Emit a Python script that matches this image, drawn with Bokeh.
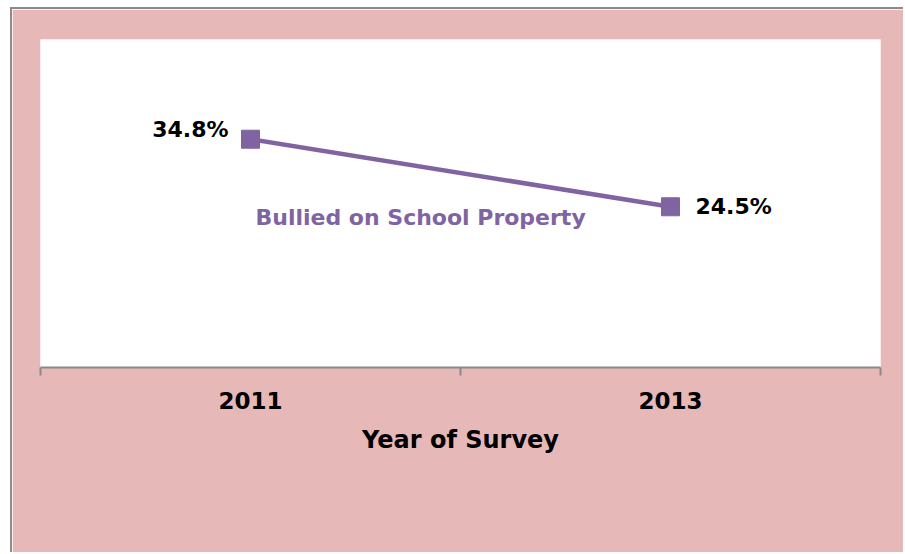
from bokeh.plotting import figure
from bokeh.models import Range1d, FixedTicker, Label
from bokeh.embed import file_html
from bokeh.resources import INLINE

years = ["2011", "2013"]
bullied = [34.8, 24.5]
series_name = "Bullied on School Property"
x_title = "Year of Survey"

PINK = "#E6B8B7"
PURPLE = "#8064A2"
GRAY = "#898989"
FONT = "DejaVu Sans"

xs = [i + 0.5 for i in range(len(years))]

p = figure(width=893, height=545, output_backend="svg", toolbar_location=None,
           x_range=Range1d(0, len(years)), y_range=Range1d(0, 50),
           y_axis_location=None,
           min_border_left=28, min_border_right=25, min_border_top=30, min_border_bottom=187)
p.background_fill_color = "white"
p.border_fill_color = PINK
p.outline_line_color = None
p.grid.visible = False
p.styles = {"margin-left": "10px", "margin-top": "7px",
            "border-left": "2px solid #8c8c8c", "border-top": "2px solid #8c8c8c"}

p.line(xs, bullied, line_color=PURPLE, line_width=4.5)
p.scatter(xs, bullied, marker="square", size=18, fill_color=PURPLE, line_color=PURPLE)

ax = p.xaxis[0]
ax.ticker = FixedTicker(ticks=xs, minor_ticks=list(range(len(years) + 1)))
ax.major_label_overrides = {x: y for x, y in zip(xs, years)}
ax.major_tick_line_color = None
ax.minor_tick_line_color = GRAY
ax.minor_tick_line_width = 2
ax.minor_tick_in = 0
ax.minor_tick_out = 8
ax.axis_line_color = GRAY
ax.axis_line_width = 2
ax.major_label_text_font = FONT
ax.major_label_text_font_style = "bold"
ax.major_label_text_font_size = "23px"
ax.major_label_text_color = "black"
ax.major_label_standoff = 16
ax.axis_label = x_title
ax.axis_label_text_font = FONT
ax.axis_label_text_font_style = "bold"
ax.axis_label_text_font_size = "24px"
ax.axis_label_text_color = "black"
ax.axis_label_standoff = 14

# data labels
offsets = [(-22, 10, "right"), (25, 0, "left")]
for x, v, (dx, dy, al) in zip(xs, bullied, offsets):
    p.add_layout(Label(x=x, y=v, text=f"{v}%", x_offset=dx, y_offset=dy,
                       text_align=al, text_baseline="middle",
                       text_font=FONT, text_font_style="bold",
                       text_font_size="22px", text_color="black"))

p.add_layout(Label(x=0.905, y=22.8, text=series_name, text_align="center",
                   text_baseline="middle", text_font=FONT, text_font_style="bold",
                   text_font_size="22px", text_color=PURPLE))

open("out.html", "w").write(file_html(p, INLINE))
